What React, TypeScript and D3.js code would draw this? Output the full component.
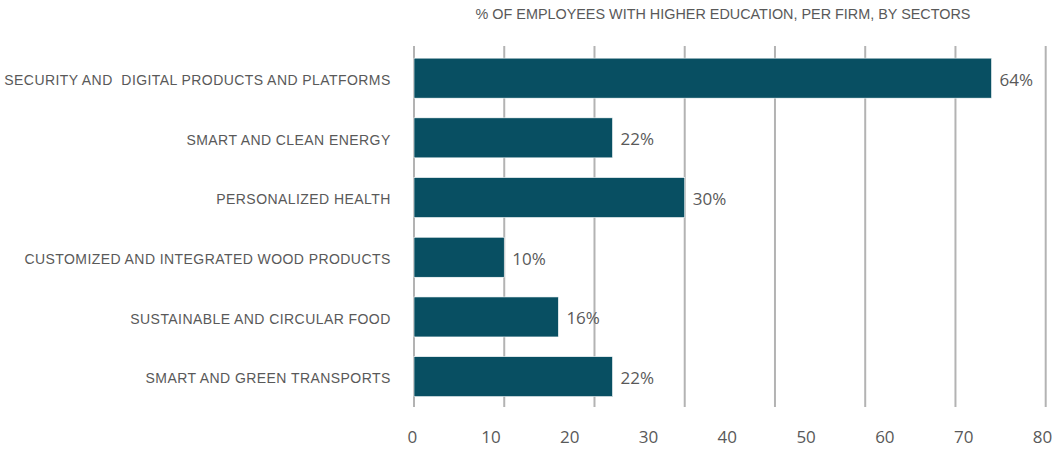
import { useEffect, useRef } from 'react';
import * as d3 from 'd3';

// sectors, top to bottom
const sectors = [
  'SECURITY AND  DIGITAL PRODUCTS AND PLATFORMS',
  'SMART AND CLEAN ENERGY',
  'PERSONALIZED HEALTH',
  'CUSTOMIZED AND INTEGRATED WOOD PRODUCTS',
  'SUSTAINABLE AND CIRCULAR FOOD',
  'SMART AND GREEN TRANSPORTS',
];
const shares = [64, 22, 30, 10, 16, 22];
const gridValues = [0, 10, 20, 30, 40, 50, 60, 70];
const tickLabels = [0, 10, 20, 30, 40, 50, 60, 70, 80];
const title = '% OF EMPLOYEES WITH HIGHER EDUCATION, PER FIRM, BY SECTORS';

const W = 1055;
const H = 451;
const BAR = '#084f62';
const TEXT = '#595959';

export default function App() {
  const svgRef = useRef<SVGSVGElement>(null);

  useEffect(() => {
    const svg = d3.select(svgRef.current);
    svg.selectAll('*').remove();

    const x = d3.scaleLinear().domain([0, 70]).range([414, 1045.7]);
    // the printed tick labels run on their own spacing in the original
    const xLab = d3.scaleLinear().domain([0, 80]).range([412.3, 1042.4]);
    const y = d3
      .scaleBand()
      .domain(sectors)
      .range([48.3, 406.5])
      .paddingInner(0.33)
      .paddingOuter(0.165);

    svg
      .append('text')
      .attr('x', 723)
      .attr('y', 19)
      .attr('text-anchor', 'middle')
      .style('font-family', "'Liberation Sans', Arial, sans-serif")
      .style('font-size', '14.4px')
      .style('fill', TEXT)
      .text(title);

    // gridlines
    svg
      .selectAll('.grid')
      .data(gridValues)
      .join('line')
      .attr('class', 'grid')
      .attr('x1', (d) => x(d))
      .attr('x2', (d) => x(d))
      .attr('y1', 46)
      .attr('y2', 407)
      .attr('stroke', '#b3b3b3')
      .attr('stroke-width', 2);

    const data = sectors.map((s, i) => ({ s, v: shares[i] }));

    svg
      .selectAll('.bar')
      .data(data)
      .join('rect')
      .attr('class', 'bar')
      .attr('x', x(0))
      .attr('y', (d) => y(d.s)!)
      .attr('width', (d) => x(d.v) - x(0))
      .attr('height', y.bandwidth())
      .attr('fill', BAR)
      .attr('stroke', '#ffffff')
      .attr('stroke-width', 0.6);

    svg
      .selectAll('.val')
      .data(data)
      .join('text')
      .attr('class', 'val')
      .attr('x', (d) => x(d.v) + 8)
      .attr('y', (d) => y(d.s)! + y.bandwidth() / 2 + 3)
      .attr('dominant-baseline', 'middle')
      .style('font-family', "'Open Sans', sans-serif")
      .style('font-size', '17px')
      .style('fill', TEXT)
      .text((d) => `${d.v}%`);

    svg
      .selectAll('.cat')
      .data(sectors)
      .join('text')
      .attr('class', 'cat')
      .attr('x', 390.7)
      .attr('y', (d) => y(d)! + y.bandwidth() / 2 + 3)
      .attr('text-anchor', 'end')
      .attr('dominant-baseline', 'middle')
      .style('font-family', "'Liberation Sans', Arial, sans-serif")
      .style('font-size', '14px')
      .style('letter-spacing', '0.43px')
      .style('white-space', 'pre')
      .style('fill', TEXT)
      .text((d) => d);

    svg
      .selectAll('.tick')
      .data(tickLabels)
      .join('text')
      .attr('class', 'tick')
      .attr('x', (d) => xLab(d))
      .attr('y', 438)
      .attr('text-anchor', 'middle')
      .attr('dominant-baseline', 'middle')
      .style('font-family', "'Open Sans', sans-serif")
      .style('font-size', '17px')
      .style('fill', TEXT)
      .text((d) => d);
  }, []);

  return (
    <div style={{ position: 'absolute', left: 0, top: 0 }}>
      <svg ref={svgRef} width={W} height={H} style={{ display: 'block', background: '#fff' }} />
    </div>
  );
}
